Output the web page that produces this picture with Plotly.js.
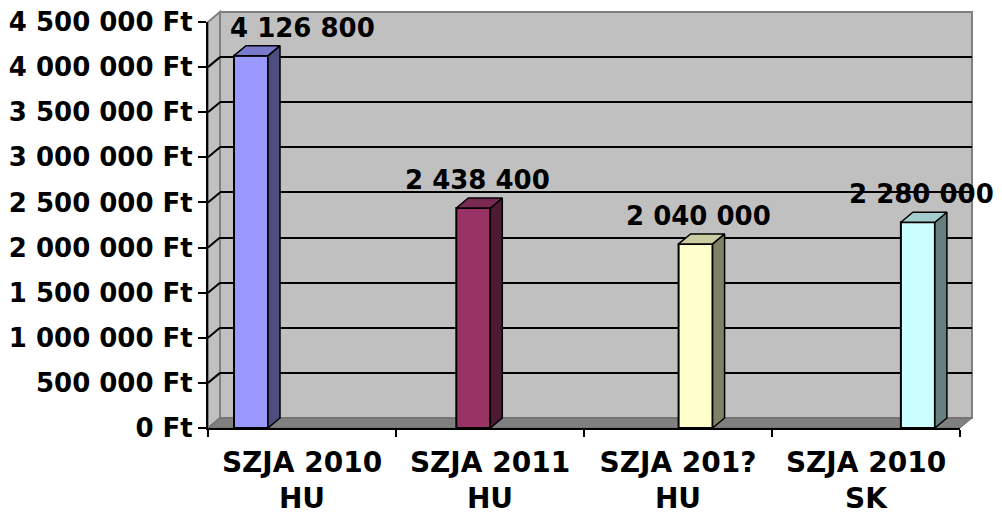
<!DOCTYPE html>
<html>
<head>
<meta charset="utf-8">
<script src="https://cdn.plot.ly/plotly-3.0.1.min.js"></script>
<style>html,body{margin:0;padding:0;background:#fff;}#chart{width:1002px;height:518px;}</style>
</head>
<body>
<div id="chart"></div>
<script>
// ---- data ----
var categories = ['SZJA 2010<br>HU', 'SZJA 2011<br>HU', 'SZJA 201?<br>HU', 'SZJA 2010<br>SK'];
var values = [4126800, 2438400, 2040000, 2280000];
var yTickVals = [0, 500000, 1000000, 1500000, 2000000, 2500000, 3000000, 3500000, 4000000, 4500000];
var gridVals = [500000, 1000000, 1500000, 2000000, 2500000, 3000000, 3500000, 4000000];
var currency = ' Ft';
var frontColors = ['#9999FF', '#993366', '#FFFFCC', '#CCFFFF'];
var sideColors = ['#4D4D80', '#4D1933', '#808066', '#668080'];
var topColors = ['#7A7ACC', '#7A2952', '#CCCCA3', '#A3CCCC'];
var labelShift = [51, 4, 3, 4];

// ---- geometry (pixels) ----
var W = 1002, H = 518;
var fx0 = 208, fx1 = 960, fyTop = 22, fyBot = 428;   // front plane
var ddx = 12, ddy = 10;                               // depth offset
var barCenter0 = 251, barStep = 222.3, barPx = 34;
var yMax = 4500000;

function px(x) { return x / W; }
function py(y) { return 1 - y / H; }
function fmt(v) { return String(v).replace(/\B(?=(\d{3})+(?!\d))/g, ' '); }

var x3r0 = -(barCenter0 - fx0) / barStep;
var x3r1 = (fx1 - barCenter0) / barStep;
var bw = barPx / barStep;
var DX = ddx / barStep;
var DY = ddy * yMax / (fyBot - fyTop);

var traces = [];
// back wall subplot (gridlines)
traces.push({type: 'scatter', x: [], y: [], xaxis: 'x', yaxis: 'y', hoverinfo: 'skip', showlegend: false});
// category axis holder
traces.push({type: 'scatter', x: categories, y: categories.map(function () { return null; }),
  xaxis: 'x2', yaxis: 'y2', mode: 'markers', hoverinfo: 'skip', showlegend: false});

// front faces
traces.push({
  type: 'bar', x: values.map(function (v, i) { return i; }), y: values,
  width: bw, xaxis: 'x3', yaxis: 'y2',
  marker: {color: frontColors, line: {color: '#000', width: 2}},
  hoverinfo: 'skip', showlegend: false
});
// sides and tops
values.forEach(function (v, i) {
  var hw = bw / 2;
  traces.push({
    type: 'scatter', mode: 'lines', fill: 'toself', fillcolor: sideColors[i],
    x: [i + hw, i + hw + DX, i + hw + DX, i + hw, i + hw],
    y: [0, DY, v + DY, v, 0],
    xaxis: 'x3', yaxis: 'y2', line: {color: '#000', width: 1.5},
    hoverinfo: 'skip', showlegend: false
  });
  traces.push({
    type: 'scatter', mode: 'lines', fill: 'toself', fillcolor: topColors[i],
    x: [i - hw, i + hw, i + hw + DX, i - hw + DX, i - hw],
    y: [v, v, v + DY, v + DY, v],
    xaxis: 'x3', yaxis: 'y2', line: {color: '#000', width: 1.5},
    hoverinfo: 'skip', showlegend: false
  });
});

var shapes = [];
// back wall
shapes.push({type: 'rect', xref: 'paper', yref: 'paper', layer: 'below',
  x0: px(fx0 + ddx), x1: px(fx1 + ddx), y0: py(fyBot - ddy), y1: py(fyTop - ddy),
  fillcolor: '#C0C0C0', line: {color: '#808080', width: 2}});
// left wall
shapes.push({type: 'path', xref: 'paper', yref: 'paper', layer: 'below',
  path: 'M' + px(fx0) + ',' + py(fyTop) + ' L' + px(fx0 + ddx) + ',' + py(fyTop - ddy) +
        ' L' + px(fx0 + ddx) + ',' + py(fyBot - ddy) + ' L' + px(fx0) + ',' + py(fyBot) + ' Z',
  fillcolor: '#C0C0C0', line: {color: '#808080', width: 2}});
// floor
shapes.push({type: 'path', xref: 'paper', yref: 'paper', layer: 'below',
  path: 'M' + px(fx0) + ',' + py(fyBot) + ' L' + px(fx0 + ddx) + ',' + py(fyBot - ddy) +
        ' L' + px(fx1 + ddx) + ',' + py(fyBot - ddy) + ' L' + px(fx1) + ',' + py(fyBot) + ' Z',
  fillcolor: '#808080', line: {color: '#6A6A6A', width: 1}});
// gridline extensions on left wall
gridVals.forEach(function (v) {
  shapes.push({type: 'line', xref: 'paper', yref: 'y2', layer: 'between',
    x0: px(fx0), x1: px(fx0 + ddx), y0: v, y1: v + DY,
    line: {color: '#000', width: 2}});
});

var annotations = values.map(function (v, i) {
  return {xref: 'x3', yref: 'y2', x: i, y: v, text: fmt(v), showarrow: false,
    xshift: labelShift[i], yshift: 28, xanchor: 'center', yanchor: 'middle',
    font: {family: 'DejaVu Sans', size: 26, weight: 'bold', color: '#000'}};
});

var layout = {
  width: W, height: H,
  margin: {l: 0, r: 0, t: 0, b: 0},
  paper_bgcolor: '#FFFFFF', plot_bgcolor: 'rgba(0,0,0,0)',
  showlegend: false,
  xaxis: {domain: [px(fx0 + ddx), px(fx1 + ddx)], range: [0, 1], showgrid: false, zeroline: false,
    showticklabels: false, ticks: '', showline: false, anchor: 'y', fixedrange: true},
  yaxis: {domain: [py(fyBot - ddy), py(fyTop - ddy)], range: [0, yMax], tickvals: gridVals,
    showgrid: true, gridcolor: '#000', gridwidth: 2, zeroline: false, showticklabels: false,
    ticks: '', showline: false, anchor: 'x', fixedrange: true},
  xaxis2: {domain: [px(fx0), px(fx1)], type: 'category', range: [-0.5, 3.5], anchor: 'y2',
    tickson: 'boundaries', ticks: 'outside', ticklen: 7, tickwidth: 2, tickcolor: '#000',
    ticklabelstandoff: 8,
    showline: true, linecolor: '#000', linewidth: 2, showgrid: false, zeroline: false,
    tickfont: {family: 'DejaVu Sans', size: 28, weight: 'bold', color: '#000'}, fixedrange: true},
  yaxis2: {domain: [py(fyBot), py(fyTop)], range: [0, yMax], anchor: 'x2',
    tickmode: 'array', tickvals: yTickVals,
    ticktext: yTickVals.map(function (v) { return fmt(v) + currency; }),
    ticks: 'outside', ticklen: 8, tickwidth: 2, tickcolor: '#000',
    showline: true, linecolor: '#000', linewidth: 2, showgrid: false, zeroline: false,
    tickfont: {family: 'DejaVu Sans', size: 26, weight: 'bold', color: '#000'}, fixedrange: true},
  xaxis3: {overlaying: 'x2', anchor: 'y2', range: [x3r0, x3r1], visible: false, fixedrange: true},
  bargap: 0,
  shapes: shapes,
  annotations: annotations
};

Plotly.newPlot('chart', traces, layout, {displayModeBar: false, staticPlot: true});
</script>
</body>
</html>
